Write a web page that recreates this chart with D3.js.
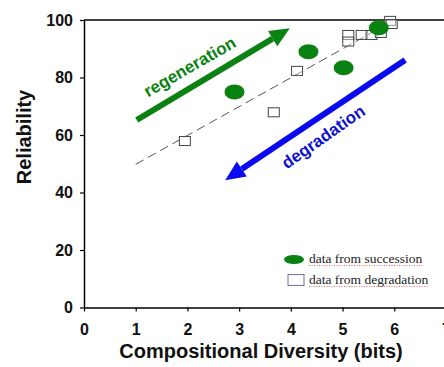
<!DOCTYPE html>
<html>
<head>
<meta charset="utf-8">
<script src="https://cdn.jsdelivr.net/npm/d3@7"></script>
<style>
  html, body { margin: 0; padding: 0; background: #fff; }
  svg { display: block; }
</style>
</head>
<body>
<svg id="chart" width="444" height="367"></svg>
<script>
// data
const xTicks = [0, 1, 2, 3, 4, 5, 6, 7];
const yTicks = [0, 20, 40, 60, 80, 100];

// green ellipses (succession)
const successionX = [2.91, 4.34, 5.02, 5.70];
const successionY = [75.0, 89.0, 83.4, 97.3];

// open squares (degradation)
const degradationX = [1.95, 3.67, 4.12, 5.11, 5.11, 5.37, 5.56, 5.74, 5.92, 5.95];
const degradationY = [57.9, 67.9, 82.3, 94.8, 92.5, 94.8, 94.8, 95.5, 99.7, 98.6];

// dashed trend line
const trendX = [1.0, 6.0];
const trendY = [49.8, 100];

// arrows, [x, y] start and tip
const regenArrow = [[1.02, 65.2], [3.98, 97.1]];
const degradArrow = [[6.21, 86.1], [2.73, 44.3]];

const legendLabels = ['data from succession', 'data from degradation'];

const svg = d3.select('#chart');
const width = +svg.attr('width');
const height = +svg.attr('height');

const x = d3.scaleLinear().domain([0, 7]).range([84, 446]);
const y = d3.scaleLinear().domain([0, 100]).range([307.5, 20]);

const green = '#0a8212';
const blue = '#0a0aee';

//
// axes
//
const xAxis = svg.append('g')
  .attr('transform', `translate(0,${y(0)})`)
  .call(d3.axisBottom(x).tickValues(xTicks).tickFormat(d3.format('d'))
    .tickSize(4).tickPadding(12).tickSizeOuter(0));
const yAxis = svg.append('g')
  .attr('transform', `translate(${x(0)},0)`)
  .call(d3.axisLeft(y).tickValues(yTicks).tickFormat(d3.format('d'))
    .tickSize(4).tickPadding(7).tickSizeOuter(0));

[xAxis, yAxis].forEach(g => {
  g.select('.domain').attr('stroke', '#000').attr('stroke-width', 1.5);
  g.selectAll('.tick line').attr('stroke', '#000').attr('stroke-width', 1.2);
  g.selectAll('.tick text')
    .attr('fill', '#111')
    .style('font-family', 'Arial, "Liberation Sans", sans-serif')
    .style('font-weight', 'bold')
    .style('font-size', '16px');
});

// top frame line
svg.append('line')
  .attr('x1', x(0)).attr('x2', width)
  .attr('y1', y(100)).attr('y2', y(100))
  .attr('stroke', '#000').attr('stroke-width', 1.5);

// axis titles
svg.append('text')
  .attr('x', 261).attr('y', 358)
  .attr('text-anchor', 'middle')
  .style('font-family', 'Arial, "Liberation Sans", sans-serif')
  .style('font-weight', 'bold')
  .style('font-size', '20px')
  .attr('fill', '#111')
  .text('Compositional Diversity (bits)');

svg.append('text')
  .attr('transform', 'translate(31,137) rotate(-90)')
  .attr('text-anchor', 'middle')
  .style('font-family', 'Arial, "Liberation Sans", sans-serif')
  .style('font-weight', 'bold')
  .style('font-size', '20px')
  .attr('fill', '#111')
  .text('Reliability');

//
// dashed trend line
//
const line = d3.line().x(d => x(d[0])).y(d => y(d[1]));
svg.append('path')
  .datum(trendX.map((v, i) => [v, trendY[i]]))
  .attr('d', line)
  .attr('fill', 'none')
  .attr('stroke', '#555')
  .attr('stroke-width', 1)
  .attr('stroke-dasharray', '9,5');

//
// arrows
//
function drawArrow(pts, color, shaft, headLen, headW) {
  const [x0, y0] = [x(pts[0][0]), y(pts[0][1])];
  const [x1, y1] = [x(pts[1][0]), y(pts[1][1])];
  const ang = Math.atan2(y1 - y0, x1 - x0);
  const bx = x1 - headLen * Math.cos(ang);
  const by = y1 - headLen * Math.sin(ang);
  svg.append('line')
    .attr('x1', x0).attr('y1', y0).attr('x2', bx).attr('y2', by)
    .attr('stroke', color).attr('stroke-width', shaft);
  const px = -Math.sin(ang) * headW / 2;
  const py = Math.cos(ang) * headW / 2;
  svg.append('path')
    .attr('d', `M${x1},${y1}L${bx + px},${by + py}L${bx - px},${by - py}Z`)
    .attr('fill', color);
}
drawArrow(regenArrow, green, 6, 20, 18);
drawArrow(degradArrow, blue, 6, 20, 18);

function rotatedLabel(pos, angle, color, txt) {
  svg.append('text')
    .attr('transform', `translate(${x(pos[0])},${y(pos[1])}) rotate(${angle})`)
    .attr('text-anchor', 'middle')
    .style('font-family', 'Arial, "Liberation Sans", sans-serif')
    .style('font-weight', 'bold')
    .style('font-size', '17px')
    .attr('fill', color)
    .text(txt);
}
rotatedLabel([2.1, 82], -30, green, 'regeneration');
rotatedLabel([4.69, 57.7], -35, '#1010d0', 'degradation');

//
// points
//
svg.append('g').selectAll('rect')
  .data(degradationX.map((v, i) => [v, degradationY[i]]))
  .join('rect')
  .attr('x', d => x(d[0]) - 5.5)
  .attr('y', d => y(d[1]) - 4.5)
  .attr('width', 11)
  .attr('height', 9)
  .attr('fill', '#fff')
  .attr('fill-opacity', 0.4)
  .attr('stroke', '#444')
  .attr('stroke-width', 1);

svg.append('g').selectAll('ellipse')
  .data(successionX.map((v, i) => [v, successionY[i]]))
  .join('ellipse')
  .attr('cx', d => x(d[0]))
  .attr('cy', d => y(d[1]))
  .attr('rx', 10)
  .attr('ry', 7.5)
  .attr('fill', green);

//
// legend
//
const legend = svg.append('g');
legend.append('ellipse')
  .attr('cx', 294).attr('cy', 259.5).attr('rx', 10).attr('ry', 4.5)
  .attr('fill', green);
legend.append('rect')
  .attr('x', 288).attr('y', 274.5).attr('width', 16).attr('height', 11)
  .attr('fill', '#fff').attr('stroke', '#7070a8').attr('stroke-width', 1);
legendLabels.forEach((txt, i) => {
  const t = legend.append('text')
    .attr('x', 309).attr('y', 263 + i * 21)
    .style('font-family', '"Liberation Serif", "Times New Roman", serif')
    .style('font-size', '13.5px')
    .attr('fill', '#222')
    .text(txt);
  const w = t.node().getComputedTextLength();
  legend.append('line')
    .attr('x1', 309).attr('x2', 309 + w)
    .attr('y1', 265.5 + i * 21).attr('y2', 265.5 + i * 21)
    .attr('stroke', '#e07070')
    .attr('stroke-width', 1)
    .attr('stroke-dasharray', '1,1.5');
});
</script>
</body>
</html>
